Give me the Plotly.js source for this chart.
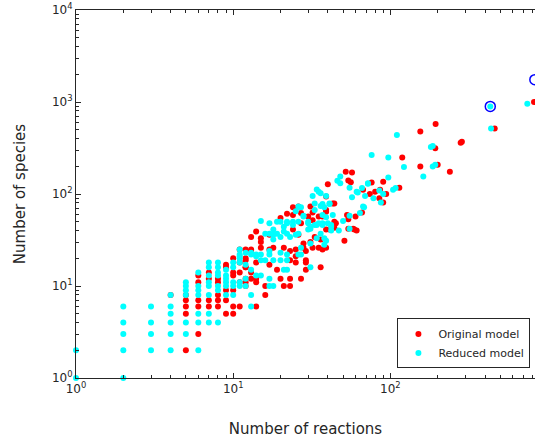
<!DOCTYPE html>
<html>
<head>
<meta charset="utf-8">
<script src="https://cdn.plot.ly/plotly-3.0.1.min.js"></script>
<style>html,body{margin:0;padding:0;background:#fff;overflow:hidden}</style>
</head>
<body>
<div id="chart" style="width:535px;height:445px"></div>
<script>
// Original model: [reactions, species]
var origX = [4,5,5,5,5,5,6,6,6,6,6,7,7,7,7,8,8,8,8,8,9,9,9,9,9,10,10,10,10,10,10,11,11,11,11,12,12,12,12,13,13,13,14,14,14,14,
24,31,22,24,39,20,27,32,39,13,14,26,24,33,36,28,31,12,13,15,17,18,21,23,25,25,28,35,37,12,12,17,19,23,25,29,20,23,27,16,21,23,16,12,11,15,15,17,
155,119,155,52,57,54,56,40,90,76,67,74,80,86,94,114,85,90,39,44,66,60,53,54,45,44,41,58,61,51,
820,194,461,285,280,193,200,239,
26,27,30,32,35,37,39,43,32,29,29,29,39,36,44,54,59];
var origY = [8,8,7,6,5,2,13,11,7,6,3,14,12,7,6,12,11,8,7,6,17,16,9,7,5,20,14,13,9,6,5,18,14,11,6,20,16,12,10,25,14,12,11,6,12,18,
72,73,61,59,67,55,48,52,41,34,39,36,41,34,32,29,30,25,24,26,25,26,26,24,25,21,26,26,25,16,19,17,15,19,18,18,12,12,12,10,10,10,8,11,25,33,30,36,
479,249,199,175,171,140,134,128,136,133,111,100,106,111,100,117,90,81,94,79,63,57,59,53,48,43,41,42,40,31,
1000,575,516,370,361,315,208,175,
73,62,57,63,57,57,64,79,26,24,19,15,26,16,50,42,41];

// Reduced model: [reactions, species]
var redX = [1,1,2,2,2,2,2,3,3,3,3,4,4,4,4,4,4,5,5,5,5,5,5,6,6,6,6,6,6,6,7,7,7,7,7,7,7,7,8,8,8,8,8,8,8,9,9,9,9,9,9,10,10,10,10,10,11,11,11,11,11,11,12,12,12,12,13,13,13,13,13,14,14,14,
32,35,39,26,36,33,28,37,15,19,22,24,30,34,37,16,17,18,18,20,22,31,34,38,11,17,20,22,26,38,31,15,16,18,31,21,22,15,17,17,18,15,17,20,22,17,20,21,22,24,26,18,19,21,23,25,26,25,
110,76,97,122,48,46,48,97,72,55,66,61,57,69,78,85,90,104,108,87,41,38,68,64,55,50,43,39,42,42,47,55,39,
432,743,437,181,186,186,193,162,
34,36,62,72,27,28,30,31,30,33,37,41,33,35,37,36,40,42,27,27,67];
var redY = [1,2,1,2,3,4,6,2,3,4,6,2,3,4,5,6,8,3,4,8,9,10,11,2,4,5,8,9,10,14,4,5,8,10,11,13,16,18,4,9,10,13,14,16,18,8,10,11,12,13,15,8,10,11,16,18,10,11,18,20,21,22,10,12,17,23,6,8,15,22,23,13,21,22,
95,106,95,73,74,67,58,59,51,50,50,50,48,46,48,37,37,41,32,34,37,42,33,33,25,22,23,22,22,28,29,19,19,19,16,15,15,13,12,10,10,22,24,19,19,48,50,44,48,46,50,36,37,39,34,36,37,65,
437,265,249,196,155,139,131,151,129,117,116,106,92,95,90,109,100,111,116,81,79,72,72,62,58,51,59,56,44,40,40,42,31,
896,958,516,324,333,199,208,155,
112,102,104,131,72,57,50,44,41,79,78,78,46,48,46,37,48,46,26,22,73];

// Highlighted models
var markX = [432, 830];
var markY = [896, 1750];

var decades = [1, 10, 100, 1000, 10000];
var decadeText = ['10<sup>0</sup>','10<sup>1</sup>','10<sup>2</sup>','10<sup>3</sup>','10<sup>4</sup>'];
var minorVals = [];
for (var d = 0; d < 4; d++) for (var k = 2; k <= 9; k++) minorVals.push(k * Math.pow(10, d));

var axisColor = '#262626';
var traces = [
  {x: origX, y: origY, type: 'scatter', mode: 'markers', name: 'Original model', cliponaxis: false,
   marker: {color: '#ff0000', size: 6, line: {width: 0}}},
  {x: redX, y: redY, type: 'scatter', mode: 'markers', name: 'Reduced model', cliponaxis: false,
   marker: {color: '#00ffff', size: 6, line: {width: 0}}},
  {x: markX, y: markY, type: 'scatter', mode: 'markers', showlegend: false, cliponaxis: false,
   marker: {symbol: 'circle-open', color: '#0000ff', size: 10, line: {width: 1.5, color: '#0000ff'}}}
];

var common = {
  type: 'log', showgrid: false, zeroline: false, showline: true, linecolor: axisColor, linewidth: 1,
  ticks: 'inside', ticklen: 5, tickcolor: axisColor, tickwidth: 1,
  tickmode: 'array', tickvals: decades, ticktext: decadeText,
  tickfont: {family: 'DejaVu Sans', size: 12, color: axisColor},
  minor: {tickmode: 'array', tickvals: minorVals, ticks: 'inside', ticklen: 3, tickcolor: axisColor, tickwidth: 1, showgrid: false}
};

var layout = {
  width: 535, height: 445,
  margin: {l: 76, r: 0, t: 10, b: 67},
  paper_bgcolor: '#fff', plot_bgcolor: '#fff',
  font: {family: 'DejaVu Sans', color: axisColor},
  showlegend: true,
  xaxis: Object.assign({}, common, {
    range: [0, 2.92], mirror: 'ticks',
    title: {text: 'Number of reactions', font: {family: 'DejaVu Sans', size: 15, color: axisColor}, standoff: 28}
  }),
  yaxis: Object.assign({}, common, {
    range: [0, 4],
    title: {text: 'Number of species', font: {family: 'DejaVu Sans', size: 15, color: axisColor}, standoff: 22}
  }),
  legend: {
    x: 0.99, y: 0.026, xanchor: 'right', yanchor: 'bottom',
    bgcolor: '#fff', bordercolor: axisColor, borderwidth: 1,
    font: {family: 'DejaVu Sans', size: 11, color: axisColor},
    itemwidth: 30, tracegroupgap: 0
  }
};

Plotly.newPlot('chart', traces, layout, {displayModeBar: false, staticPlot: true});
</script>
</body>
</html>
